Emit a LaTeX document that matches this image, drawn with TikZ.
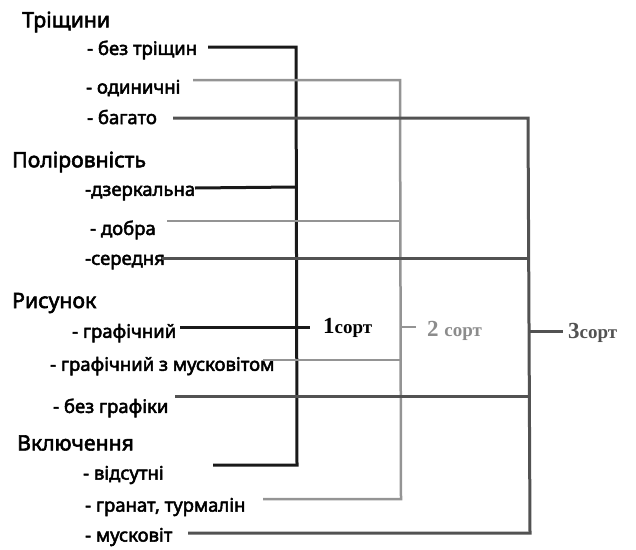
\documentclass[tikz,border=0pt]{standalone}
\usepackage{fontspec}
\setmainfont{Noto Sans}
\newfontfamily\bsf{Noto Sans}[FakeBold=2.6]
\newfontfamily\sortfont{Liberation Serif}
\begin{document}
\begin{tikzpicture}[x=1pt,y=-1pt,
  hdr/.style={anchor=west,inner sep=0pt,font=\bsf\fontsize{21.2}{23}\selectfont},
  itm/.style={anchor=west,inner sep=0pt,font=\bsf\fontsize{18.5}{20}\selectfont},
  srt/.style={anchor=base west,inner sep=0pt,font=\sortfont\bfseries},
  lk/.style={draw=black!90,line width=3pt},
  lg/.style={draw=black!42,line width=2.5pt},
  ld/.style={draw=black!68,line width=3pt}]
\useasboundingbox (0,0) rectangle (636,549);
% headers
\node[hdr] (h1) at (22,22) {Тріщини};
\node[hdr] (h2) at (12,162) {Поліровність};
\node[hdr] (h3) at (12,303) {Рисунок};
\node[hdr] (h4) at (17,443) {Включення};
% items
\node[itm] (a1) at (87,50) {- без тріщин};
\node[itm] (a2) at (86,88) {- одиничні};
\node[itm] (a3) at (87,117) {- багато};
\node[itm] (b1) at (85,193) {-дзеркальна};
\node[itm] (b2) at (90,230) {- добра};
\node[itm] (b3) at (85,262) {-середня};
\node[itm] (c1) at (72,333) {- графічний};
\node[itm] (c2) at (50,366) {- графічний з мусковітом};
\node[itm] (c3) at (53,408) {- без графіки};
\node[itm] (d1) at (83,475) {- відсутні};
\node[itm] (d2) at (85,507) {- гранат, турмалін};
\node[itm] (d3) at (85,537) {- мусковіт};
% sort labels
\node[srt,text=black] (s1) at (323,333) {\fontsize{23}{25}\selectfont 1\fontsize{19}{21}\selectfont сорт};
\node[srt,text=black!45] (s2) at (427,336) {\fontsize{23}{25}\selectfont 2 \fontsize{19}{21}\selectfont сорт};
\node[srt,text=black!68] (s3) at (568,338) {\fontsize{23}{25}\selectfont 3\fontsize{19}{21}\selectfont сорт};
% line start coordinates
\coordinate (pa1) at (208,47);
\coordinate (pa2) at (193,80);
\coordinate (pa3) at (173,118);
\coordinate (pb1) at (195,188);
\coordinate (pb2) at (167,221);
\coordinate (pb3) at (162,258);
\coordinate (pc1) at (180,327);
\coordinate (pc2) at (263,360);
\coordinate (pc3) at (175,396);
\coordinate (pd1) at (213,465);
\coordinate (pd2) at (263,499);
\coordinate (pd3) at (188,533);
% tick ends
\coordinate (t1) at (310,327);
\coordinate (t2) at (416,327);
\coordinate (t3) at (563,331);
% sort 1 (black)
\draw[lk,line join=miter] (pa1) -- (296,47) -- (297,465) -- (pd1);
\draw[lk] (pb1) -- (296,187);
\draw[lk] (pc1) -- (t1);
% sort 2 (light gray)
\draw[lg,line join=miter] (pa2) -- (400,80) -- (401,499) -- (pd2);
\draw[lg] (pb2) -- (400,221);
\draw[lg] (pc2) -- (400.5,360);
\draw[lg] (400.5,327) -- (t2);
% sort 3 (dark gray)
\draw[ld,line join=miter] (pa3) -- (528,118) -- (530,533) -- (pd3);
\draw[ld] (pb3) -- (528,258);
\draw[ld] (pc3) -- (529.5,396);
\draw[ld] (529,331) -- (t3);
\end{tikzpicture}
\end{document}
